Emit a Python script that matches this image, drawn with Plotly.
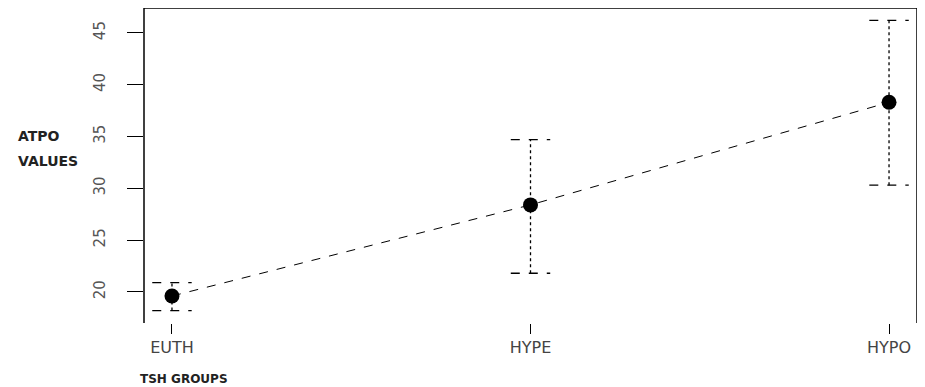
import plotly.graph_objects as go

groups = ["EUTH", "HYPE", "HYPO"]
means = [19.6, 28.4, 38.3]
upper = [20.9, 34.7, 46.2]
lower = [18.2, 21.8, 30.3]
y_ticks = [20, 25, 30, 35, 40, 45]

xs = list(range(len(groups)))
cap = 0.055

fig = go.Figure()

# connecting line
fig.add_trace(go.Scatter(x=xs, y=means, mode="lines",
                         line=dict(color="black", width=1, dash="dash"),
                         hoverinfo="skip", showlegend=False))

# error bars (dashed)
for i, (lo, hi) in enumerate(zip(lower, upper)):
    fig.add_trace(go.Scatter(x=[i, i], y=[lo, hi], mode="lines",
                             line=dict(color="black", width=1.3, dash="dot"),
                             hoverinfo="skip", showlegend=False))
    for v in (lo, hi):
        fig.add_trace(go.Scatter(x=[i - cap, i + cap], y=[v, v], mode="lines",
                                 line=dict(color="black", width=1.3, dash="dash"),
                                 hoverinfo="skip", showlegend=False))

# means
fig.add_trace(go.Scatter(x=xs, y=means, mode="markers",
                         marker=dict(color="black", size=15, symbol="circle"),
                         showlegend=False))

fig.update_layout(
    width=917, height=379,
    margin=dict(l=136, r=8, t=0, b=64),
    paper_bgcolor="white", plot_bgcolor="white",
    font=dict(family="DejaVu Sans", color="#333"),
    xaxis=dict(range=[-0.078, 2.078], tickmode="array", tickvals=xs, ticktext=groups,
               showgrid=False, zeroline=False, showline=False,
               ticks="outside", ticklen=10, tickcolor="black", tickwidth=1,
               tickfont=dict(size=16, color="#444")),
    yaxis=dict(range=[17.0, 47.4], tickmode="array", tickvals=y_ticks,
               ticktext=[str(t) for t in y_ticks],
               showgrid=False, zeroline=False, showline=False,
               ticks="outside", ticklen=16, tickcolor="black", tickwidth=1,
               tickangle=-90, ticklabelstandoff=16,
               tickfont=dict(size=15, color="#555")),
    shapes=[
        dict(type="line", xref="paper", yref="paper", x0=0, x1=0, y0=0, y1=1,
             line=dict(color="black", width=1.5)),
        dict(type="line", xref="paper", yref="paper", x0=0, x1=1, y0=1, y1=1,
             line=dict(color="black", width=1.5)),
        dict(type="line", xref="paper", yref="paper", x0=1, x1=1, y0=0, y1=1,
             line=dict(color="black", width=1.5)),
    ],
    annotations=[
        dict(text="<b>ATPO</b>", xref="paper", yref="paper", x=-0.166, y=0.594,
             xanchor="left", yanchor="middle", showarrow=False,
             font=dict(size=14, color="#222")),
        dict(text="<b>VALUES</b>", xref="paper", yref="paper", x=-0.166, y=0.514,
             xanchor="left", yanchor="middle", showarrow=False,
             font=dict(size=14, color="#222")),
        dict(text="<b>TSH GROUPS</b>", xref="paper", yref="paper", x=0.052, y=-0.178,
             xanchor="center", yanchor="middle", showarrow=False,
             font=dict(size=12, color="#222")),
    ],
)

fig.write_html("out.html")
